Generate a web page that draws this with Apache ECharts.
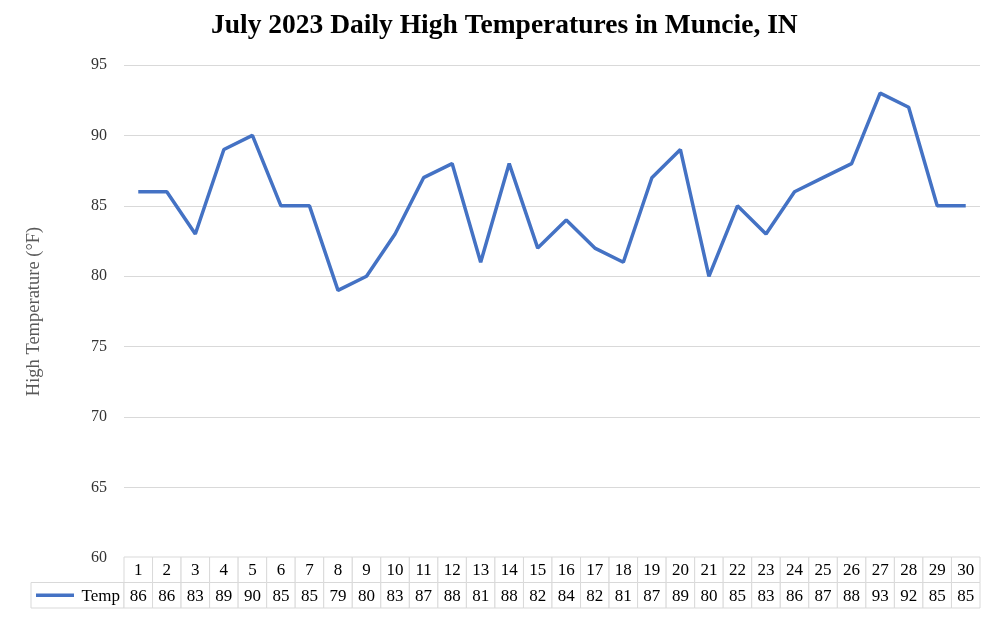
<!DOCTYPE html>
<html>
<head>
<meta charset="utf-8">
<script src="https://cdn.jsdelivr.net/npm/echarts@6/dist/echarts.min.js"></script>
<style>html,body{margin:0;padding:0;background:#fff}#c{width:1000px;height:617px}</style>
</head>
<body>
<div id="c"></div>
<script>
const days = ['1','2','3','4','5','6','7','8','9','10','11','12','13','14','15','16','17','18','19','20','21','22','23','24','25','26','27','28','29','30'];
const temps = [86,86,83,89,90,85,85,79,80,83,87,88,81,88,82,84,82,81,87,89,80,85,83,86,87,88,93,92,85,85];
const seriesName = 'Temp';
const yTicks = [60,65,70,75,80,85,90,95];
const tableRows = ['Temp','Day'];

const FONT = '"Liberation Serif","Times New Roman",serif';
const LINE = '#4472C4';
const CELL = '#d9d9d9';

const tableData = [];
days.forEach((d, i) => {
  tableData.push([i, 1, d]);
  tableData.push([i, 0, String(temps[i])]);
});

const chart = echarts.init(document.getElementById('c'), null, {renderer: 'canvas'});
chart.setOption({
  animation: false,
  backgroundColor: '#fff',
  title: {
    text: 'July 2023 Daily High Temperatures in Muncie, IN',
    left: 206, top: 7,
    textStyle: {fontFamily: FONT, fontWeight: 'bold', fontSize: 27.5, color: '#000'}
  },
  grid: [
    {left: 124, right: 20, top: 65, height: 493},
    {left: 124, right: 20, top: 557, height: 51}
  ],
  xAxis: [
    {gridIndex: 0, type: 'category', data: days, boundaryGap: true,
     axisLine: {show: false}, axisTick: {show: false}, axisLabel: {show: false}, splitLine: {show: false}},
    {gridIndex: 1, type: 'category', data: days, boundaryGap: true,
     axisLine: {show: false}, axisTick: {show: false}, axisLabel: {show: false}, splitLine: {show: false}}
  ],
  yAxis: [
    {gridIndex: 0, type: 'value', min: yTicks[0], max: yTicks[yTicks.length-1], interval: 5,
     name: 'High Temperature (°F)', nameLocation: 'middle', nameGap: 80, nameRotate: 90,
     nameTextStyle: {fontFamily: FONT, fontSize: 18.5, color: '#595959'},
     axisLine: {show: false}, axisTick: {show: false},
     axisLabel: {fontFamily: FONT, fontSize: 16, color: '#333333', margin: 17},
     splitLine: {show: true, lineStyle: {color: '#d9d9d9', width: 1}}},
    {gridIndex: 1, type: 'category', data: tableRows, inverse: false,
     axisLine: {show: false}, axisTick: {show: false}, axisLabel: {show: false}, splitLine: {show: false}}
  ],
  series: [
    {name: seriesName, type: 'line', xAxisIndex: 0, yAxisIndex: 0, data: temps,
     showSymbol: false, symbol: 'none', lineStyle: {color: LINE, width: 3.5}, itemStyle: {color: LINE}, z: 5},
    {type: 'custom', xAxisIndex: 1, yAxisIndex: 1, data: tableData,
     renderItem: function (params, api) {
       const x = api.value(0), r = api.value(1);
       const c = api.coord([x, r]);
       const s = api.size([1, 1]);
       const top = params.coordSys.y, h = params.coordSys.height;
       const split = top + 25.5;
       const y0 = r === 1 ? top : split;
       const y1 = r === 1 ? split : top + h;
       const children = [{
         type: 'rect',
         shape: {x: c[0] - s[0]/2, y: y0, width: s[0], height: y1 - y0},
         style: {fill: '#fff', stroke: CELL, lineWidth: 1}
       }, {
         type: 'text',
         style: {text: api.value(2), x: c[0], y: (y0 + y1)/2 + 1, align: 'center', verticalAlign: 'middle',
                 font: '17px ' + FONT, fill: '#000'}
       }];
       if (x === 0 && r === 0) {
         const lx1 = c[0] - s[0]/2;
         const lx0 = 31;
         children.unshift({
           type: 'rect', shape: {x: lx0, y: y0, width: lx1 - lx0, height: y1 - y0},
           style: {fill: '#fff', stroke: CELL, lineWidth: 1}
         });
         children.push({
           type: 'line', shape: {x1: lx0 + 5, y1: (y0+y1)/2, x2: lx0 + 43, y2: (y0+y1)/2},
           style: {stroke: LINE, lineWidth: 3.5}
         });
         children.push({
           type: 'text',
           style: {text: seriesName, x: lx1 - 4, y: (y0+y1)/2 + 1, align: 'right', verticalAlign: 'middle',
                   font: '17px ' + FONT, fill: '#000'}
         });
       }
       return {type: 'group', children: children};
     }
    }
  ]
});
</script>
</body>
</html>
